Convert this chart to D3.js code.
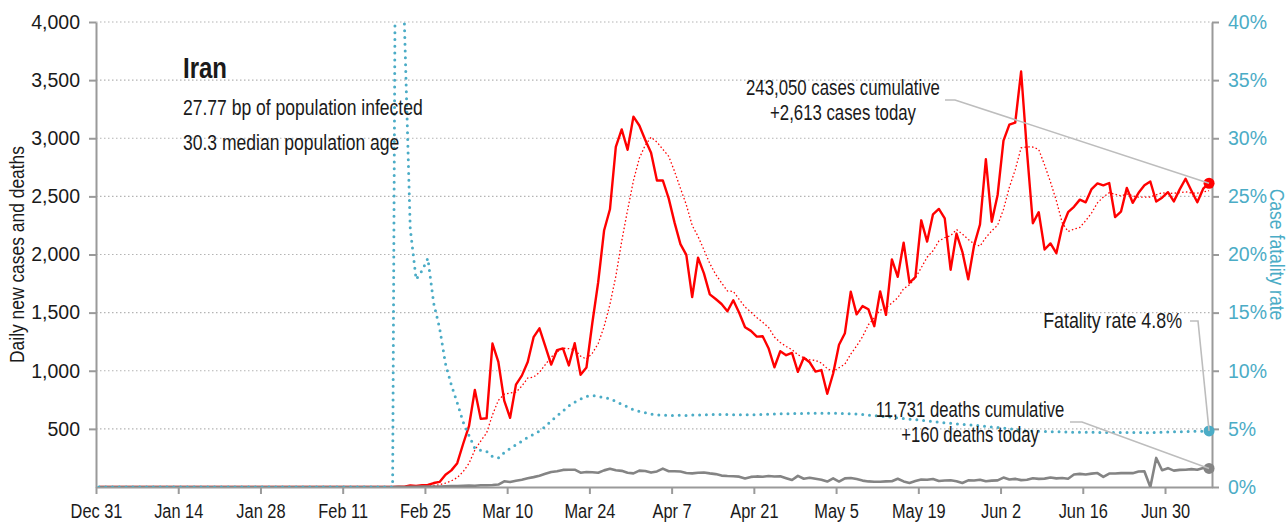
<!DOCTYPE html>
<html>
<head>
<meta charset="utf-8">
<script src="https://cdn.jsdelivr.net/npm/d3@7"></script>
<style>
  body { margin: 0; background: #fff; }
  svg { display: block; font-family: "Liberation Sans", Arial, sans-serif; }
</style>
</head>
<body>
<svg id="chart" width="1288" height="522"></svg>
<script>
const CASES_RED = "#ff0000";
const DEATHS_GREY = "#848484";
const CFR_BLUE = "#4bacc6";
const AXIS_GREY = "#9a9a9a";
const TEXT = "#1a1a1a";

// chart copy
const country = "Iran";
const facts = ["27.77 bp of population infected", "30.3 median population age"];
const caseNotes = ["243,050 cases cumulative", "+2,613 cases today"];
const deathNotes = ["11,731 deaths cumulative", "+160 deaths today"];
const rateNote = "Fatality rate 4.8%";

// first day of the series, one value per day after that
const firstDay = "2019-12-31";
const xTickLabels = ["Dec 31", "Jan 14", "Jan 28", "Feb 11", "Feb 25", "Mar 10", "Mar 24",
  "Apr 7", "Apr 21", "May 5", "May 19", "Jun 2", "Jun 16", "Jun 30"];
const yTicks = [500, 1000, 1500, 2000, 2500, 3000, 3500, 4000];
const yRightTicks = [0, 0.05, 0.1, 0.15, 0.2, 0.25, 0.3, 0.35, 0.4];

const dailyCases = [
  0, 0, 0, 0, 0, 0, 0, 0, 0, 0, 0, 0, 0, 0, 0, 0, 0, 0, 0, 0, 0, 0, 0, 0, 0, 0,
  0, 0, 0, 0, 0, 0, 0, 0, 0, 0, 0, 0, 0, 0, 0, 0, 0, 0, 0, 0, 0, 0, 0, 0, 0,
  2, 3, 13, 10, 15, 18, 34, 44, 106, 143, 205, 370, 523, 835, 586, 591, 1234, 1076, 743,
  595, 881, 958, 1075, 1289, 1365, 1209, 1053, 1178, 1192, 1046, 1237, 966, 1028, 1411,
  1762, 2206, 2389, 2926, 3076, 2901, 3186, 3110, 2987, 2875, 2637, 2638, 2483, 2274,
  2089, 1997, 1634, 1972, 1837, 1657, 1617, 1574, 1512, 1606, 1499, 1374, 1343, 1294,
  1297, 1194, 1030, 1168, 1134, 1153, 991, 1112, 1073, 993, 1006, 802, 976, 1223, 1323,
  1680, 1485, 1556, 1529, 1383, 1683, 1481, 1958, 1808, 2102, 1757, 1806, 2294, 2111,
  2346, 2392, 2311, 1869, 2180, 2023, 1787, 2080, 2258, 2819, 2282, 2512, 2979, 3117,
  3134, 3574, 2886, 2269, 2364, 2043, 2095, 2011, 2238, 2364, 2410, 2472, 2449, 2563,
  2612, 2595, 2615, 2322, 2368, 2573, 2445, 2531, 2595, 2628, 2456, 2489, 2536, 2457,
  2560, 2652, 2549, 2449, 2566, 2613
];

const dailyDeaths = [
  0, 0, 0, 0, 0, 0, 0, 0, 0, 0, 0, 0, 0, 0, 0, 0, 0, 0, 0, 0, 0, 0, 0, 0, 0, 0,
  0, 0, 0, 0, 0, 0, 0, 0, 0, 0, 0, 0, 0, 0, 0, 0, 0, 0, 0, 0, 0, 0, 0, 0, 0,
  2, 0, 2, 1, 3, 4, 3, 4, 7, 8, 9, 11, 12, 11, 15, 15, 17, 21, 49, 43, 54, 63, 75, 85,
  97, 113, 129, 135, 147, 149, 149, 123, 129, 127, 122, 143, 157, 144, 139, 123, 117,
  141, 138, 124, 134, 158, 136, 136, 133, 121, 117, 122, 125, 117, 111, 98, 94, 92, 89,
  73, 87, 91, 88, 94, 90, 93, 76, 60, 96, 71, 80, 71, 63, 47, 74, 47, 74, 78, 68, 55,
  48, 45, 45, 48, 50, 71, 48, 35, 51, 65, 62, 69, 51, 56, 58, 50, 34, 57, 56, 63, 50,
  55, 57, 81, 64, 70, 59, 63, 75, 70, 72, 81, 74, 78, 71, 107, 113, 107, 115, 120, 87,
  116, 116, 119, 121, 119, 133, 134, 0, 250, 144, 162, 141, 147, 148, 154, 148, 163, 160
];

const svg = d3.select("#chart"),
  margin = { top: 22, right: 76, bottom: 35, left: 96 },
  width = +svg.attr("width") - margin.left - margin.right,
  height = +svg.attr("height") - margin.top - margin.bottom,
  g = svg.append("g").attr("transform", "translate(" + margin.left + "," + margin.top + ")");

const start = d3.timeParse("%Y-%m-%d")(firstDay);

// readings are plotted at midday, ticks sit on midnight
const rows = dailyCases.map(function(c, i) {
  return { date: d3.timeHour.offset(d3.timeDay.offset(start, i), 12), cases: c, deaths: dailyDeaths[i] };
});

let cumCases = 0, cumDeaths = 0;
rows.forEach(function(d, i) {
  cumCases += d.cases;
  cumDeaths += d.deaths;
  d.cfr = cumCases > 0 ? cumDeaths / cumCases : 0;
  // trailing 7 day average
  d.avg = d3.mean(rows.slice(Math.max(0, i - 6), i + 1), function(r) { return r.cases; });
});

const x = d3.scaleTime()
  .domain([start, d3.timeDay.offset(start, rows.length)])
  .range([0, width]);
const y = d3.scaleLinear().domain([0, 4000]).range([height, 0]);
const yRight = d3.scaleLinear().domain([0, 0.4]).range([height, 0]);

const parseTick = d3.timeParse("%b %d %Y");
const xTicks = xTickLabels.map(function(l) {
  return parseTick(l + (l.indexOf("Dec") === 0 ? " 2019" : " 2020"));
});

// squeeze text to look like the condensed face of the original
function condense(sel, k) {
  sel.each(function() {
    const w = this.getComputedTextLength();
    d3.select(this).attr("textLength", w * k).attr("lengthAdjust", "spacingAndGlyphs");
  });
}

svg.append("defs").append("clipPath").attr("id", "plot")
  .append("rect").attr("width", width).attr("height", height);

// dotted grid
g.append("g").selectAll("line").data(yTicks).enter().append("line")
  .attr("x1", 0).attr("x2", width)
  .attr("y1", function(d) { return y(d); }).attr("y2", function(d) { return y(d); })
  .attr("stroke", "#b4b4b4").attr("stroke-width", 1.2)
  .style("stroke-dasharray", "1.5, 2.5");

// axes
const left = g.append("g")
  .call(d3.axisLeft(y).tickValues(yTicks).tickSize(7).tickSizeOuter(0).tickPadding(9).tickFormat(d3.format(",")));
const right = g.append("g").attr("transform", "translate(" + width + ",0)")
  .call(d3.axisRight(yRight).tickValues(yRightTicks).tickSize(7).tickSizeOuter(0).tickPadding(9).tickFormat(d3.format(".0%")));
const bottom = g.append("g").attr("transform", "translate(0," + height + ")")
  .call(d3.axisBottom(x).tickValues(xTicks).tickSize(7).tickSizeOuter(0).tickPadding(10)
    .tickFormat(function(d, i) { return xTickLabels[i]; }));

[left, right, bottom].forEach(function(a) {
  a.selectAll("path, line").attr("stroke", AXIS_GREY).attr("stroke-width", 2);
  a.selectAll("text").attr("font-family", null).attr("font-size", 19.5).attr("fill", TEXT);
});
right.selectAll("text").attr("fill", CFR_BLUE);
condense(bottom.selectAll("text"), 0.84);

g.append("text")
  .attr("transform", "translate(-72," + height / 2 + ") rotate(-90)")
  .attr("text-anchor", "middle")
  .attr("font-size", 21)
  .attr("fill", TEXT)
  .text("Daily new cases and deaths")
  .call(condense, 0.83);

g.append("text")
  .attr("transform", "translate(" + (width + 58) + "," + height / 2 + ") rotate(90)")
  .attr("text-anchor", "middle")
  .attr("font-size", 19.5)
  .attr("fill", CFR_BLUE)
  .text("Case fatality rate")
  .call(condense, 0.9);

// series
const plot = g.append("g").attr("clip-path", "url(#plot)");

const lineOf = function(scale, key) {
  return d3.line()
    .x(function(d) { return x(d.date); })
    .y(function(d) { return scale(d[key]); });
};

plot.append("path").datum(rows)
  .attr("fill", "none").attr("stroke", CASES_RED).attr("stroke-width", 1.3)
  .style("stroke-dasharray", "1.5, 2.3")
  .attr("d", lineOf(y, "avg"));

plot.append("path").datum(rows)
  .attr("fill", "none").attr("stroke", CASES_RED).attr("stroke-width", 2.4)
  .attr("stroke-linejoin", "round")
  .attr("d", lineOf(y, "cases"));

plot.append("path").datum(rows)
  .attr("fill", "none").attr("stroke", DEATHS_GREY).attr("stroke-width", 2.6)
  .attr("stroke-linejoin", "round")
  .attr("d", lineOf(y, "deaths"));

plot.append("path").datum(rows)
  .attr("fill", "none").attr("stroke", CFR_BLUE).attr("stroke-width", 3)
  .attr("stroke-linecap", "round")
  .style("stroke-dasharray", "0, 6.8")
  .attr("d", lineOf(yRight, "cfr"));

const last = rows[rows.length - 1];
const ends = [
  { v: y(last.cases), color: CASES_RED },
  { v: yRight(last.cfr), color: CFR_BLUE },
  { v: y(last.deaths), color: DEATHS_GREY }
];
g.append("g").selectAll("circle").data(ends).enter().append("circle")
  .attr("cx", x(last.date)).attr("cy", function(d) { return d.v; })
  .attr("r", 5.5).attr("fill", function(d) { return d.color; });

// title block
g.append("text").attr("x", 87).attr("y", 56)
  .attr("font-size", 30).attr("font-weight", "bold").attr("fill", TEXT)
  .text(country)
  .call(condense, 0.8);
g.append("g").selectAll("text").data(facts).enter().append("text")
  .attr("x", 87).attr("y", function(d, i) { return 93 + i * 35; })
  .attr("font-size", 21.5).attr("fill", TEXT)
  .text(function(d) { return d; })
  .call(condense, 0.815);

// annotations with leader lines
function note(lines, tx, ty, anchor, path, k) {
  g.append("path")
    .attr("d", d3.line()(path))
    .attr("fill", "none").attr("stroke", "#bdbdbd").attr("stroke-width", 1.6);
  g.append("g").selectAll("text").data(lines).enter().append("text")
    .attr("x", tx).attr("y", function(d, i) { return ty + i * 25; })
    .attr("text-anchor", anchor)
    .attr("font-size", 21.5).attr("fill", TEXT)
    .text(function(d) { return d; })
    .call(condense, k);
}

const ex = x(last.date);
note(caseNotes, 747, 73, "middle", [[849, 78], [859, 78], [ex, y(last.cases)]], 0.78);
note([rateNote], 1086, 306, "end", [[1094, 299], [1102, 299], [ex, yRight(last.cfr)]], 0.83);
note(deathNotes, 874, 395, "middle", [[974, 400], [986, 400], [ex, y(last.deaths)]], 0.775);
</script>
</body>
</html>
